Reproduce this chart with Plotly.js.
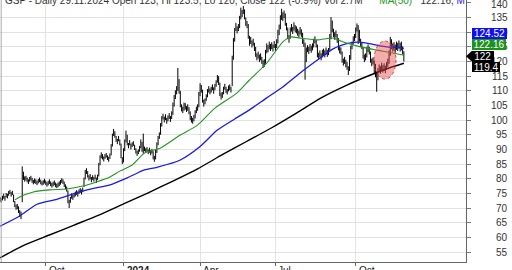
<!DOCTYPE html>
<html><head><meta charset="utf-8">
<script src="https://cdn.plot.ly/plotly-3.0.1.min.js"></script>
<style>html,body{margin:0;padding:0;background:#fff;}#c{width:512px;height:270px;}</style>
</head><body><div id="c"></div>
<script>
// daily bars (trading-day index = array position)
const hi = [
73.8,73.4,74.2,74.9,74.1,75.1,74.9,75.8,76.2,75.5,
75.9,74.6,72.4,71.2,71.4,70.6,69.3,68.8,84.2,82.4,
80.8,81.0,80.4,79.8,80.6,81.0,80.3,79.6,80.1,79.8,
79.3,79.9,80.4,79.7,79.1,79.5,80.0,79.4,78.8,79.3,
79.8,79.1,78.6,79.0,79.4,78.7,78.3,78.7,79.1,79.6,
80.2,79.8,79.0,78.1,77.4,76.0,72.8,73.8,75.0,74.5,
75.2,75.6,76.1,75.6,76.4,76.8,76.3,77.0,80.4,83.0,
83.6,82.6,81.2,81.6,80.6,81.2,80.6,81.4,80.4,81.4,
85.4,88.0,89.0,88.4,87.6,88.4,88.8,88.0,87.5,88.6,
91.8,95.4,97.0,96.2,94.6,93.6,94.6,93.4,92.0,87.4,
90.4,93.4,96.4,95.0,92.2,93.2,92.0,92.4,92.8,91.6,
90.4,89.6,90.0,91.2,93.4,92.6,95.4,91.0,90.4,90.8,
90.0,90.6,89.8,90.2,89.4,87.8,89.8,92.4,94.6,95.8,
99.0,101.4,102.2,101.2,102.0,100.8,101.6,102.4,101.4,103.0,
106.0,108.6,110.2,111.6,117.8,114.0,110.0,105.4,104.6,106.0,
105.8,104.8,105.4,104.4,103.0,101.4,100.8,101.8,103.4,104.6,
105.4,109.6,112.6,112.0,110.4,107.0,107.4,108.8,110.6,111.6,
110.8,111.4,112.2,111.2,112.4,113.6,115.4,115.0,112.8,109.4,
109.6,111.4,112.4,111.4,110.6,111.8,112.2,111.4,122.0,128.0,
131.4,133.2,132.0,132.8,135.6,138.4,137.6,139.0,137.8,135.0,
133.8,132.8,128.8,128.4,127.2,127.8,126.4,125.0,122.8,123.4,
122.4,122.8,121.6,120.4,120.8,124.0,126.2,125.6,126.8,126.0,
126.6,125.8,127.0,126.0,127.6,130.8,132.6,135.8,138.0,136.8,
137.4,136.4,133.2,131.6,129.0,131.6,132.8,131.8,133.4,132.4,
132.0,131.2,130.6,131.8,131.0,129.8,127.6,126.4,124.8,125.6,
125.0,126.0,125.4,126.2,127.8,128.6,127.4,125.8,123.0,123.8,
122.8,124.0,124.4,123.8,124.8,124.0,124.6,129.4,135.2,134.0,
131.2,130.0,130.6,129.4,128.0,125.2,124.8,123.4,121.0,121.6,
120.6,119.8,118.4,122.2,125.4,126.8,128.6,129.4,131.6,133.0,
132.4,130.8,127.8,126.6,125.0,122.4,122.8,125.0,125.8,125.0,
123.4,121.0,121.4,120.4,119.2,116.6,117.8,119.0,118.4,119.6,
118.8,119.4,118.6,119.8,121.0,123.8,128.4,127.6,126.2,126.6,
125.8,126.8,126.4,127.2,126.4,126.8,125.2,123.5
];
const lo = [
72.2,71.9,72.6,73.2,72.5,73.6,73.3,74.2,74.8,73.9,
74.4,72.0,70.3,69.4,69.6,68.3,67.0,66.2,72.0,79.6,
79.0,79.4,78.8,78.2,79.0,79.4,78.6,78.1,78.5,78.2,
77.8,78.4,78.8,78.1,77.7,77.9,78.4,77.9,77.3,77.7,
78.2,77.5,77.0,77.4,77.8,77.1,76.8,77.1,77.5,78.0,
78.6,78.2,77.2,76.4,75.6,71.6,70.0,71.8,73.2,72.8,
73.6,74.0,74.5,73.9,74.8,75.2,74.6,75.4,77.2,79.8,
81.6,80.4,79.4,79.8,78.8,79.6,79.0,79.8,78.6,79.6,
80.8,84.6,87.0,86.6,85.9,86.8,87.2,86.4,85.8,86.8,
88.0,91.0,94.6,94.0,92.6,91.8,92.8,91.4,87.0,85.0,
85.6,89.4,92.4,91.4,90.4,91.4,90.0,90.8,91.2,89.8,
88.6,87.8,88.4,89.2,90.4,89.2,88.6,89.4,88.8,89.2,
88.4,88.9,88.0,88.6,86.6,85.8,86.6,88.8,91.4,93.6,
95.0,97.8,100.2,99.2,100.0,98.8,99.6,100.4,99.4,100.4,
101.8,104.6,107.2,108.8,110.0,109.0,104.4,103.0,102.4,103.2,
103.6,102.8,103.2,102.0,100.0,99.2,98.8,99.6,100.6,102.4,
103.2,104.4,108.2,109.4,106.0,104.6,105.4,106.6,107.8,109.4,
108.8,109.4,110.2,109.0,110.2,111.4,112.8,112.0,108.2,107.0,
107.6,108.8,110.4,109.2,108.8,109.8,110.2,109.4,111.6,120.6,
126.8,130.4,129.6,130.4,131.4,134.4,135.2,136.2,134.4,132.2,
131.4,127.8,125.4,126.0,124.8,125.4,123.6,121.6,120.4,121.0,
119.8,120.4,119.2,117.8,118.2,119.2,122.8,123.2,124.2,123.6,
124.2,123.4,124.6,123.6,124.6,126.2,129.0,131.0,134.2,133.8,
134.8,132.2,130.6,127.6,126.4,127.8,130.2,129.4,130.6,130.0,
129.6,128.8,128.2,129.2,128.4,126.0,125.0,113.8,119.8,123.2,
122.6,123.6,123.0,123.8,124.8,126.2,124.8,121.4,120.8,121.4,
120.4,121.4,122.0,121.4,122.4,121.6,122.2,123.8,127.6,130.0,
128.4,127.4,128.2,126.4,123.8,122.8,122.4,119.6,118.6,119.2,
118.0,117.2,115.4,116.8,120.6,124.2,125.8,127.0,128.0,130.2,
126.0,126.8,125.0,124.2,121.0,119.8,120.4,121.4,123.2,122.4,
119.6,118.4,119.0,115.8,114.6,109.7,113.6,116.4,115.8,116.8,
116.2,116.8,116.0,117.2,118.2,119.2,122.0,124.2,123.4,123.8,
123.0,124.0,123.6,124.4,123.4,123.8,122.4,120.0
];
// moving averages (index, value)
const maGreenX = [12,16,27,40,54,67,78,89,97,107,117,130,146,160,174,192,202,216,229,235,243,257,270,278,292,305,318,327];
const maGreenY = [72.8,73.8,75.5,76.2,76.5,77.5,78.9,80.6,82.6,84.7,88.8,90.5,94.9,98.3,104.1,109.3,113.7,119.5,126.7,128.4,128.0,127.4,128.0,126.7,125.0,123.9,122.9,122.16];
const maBlueX = [0,16,30,46,61,75,89,103,117,127,146,162,176,190,202,216,229,243,257,270,280,289,297,305,313,321,327];
const maBlueY = [63.8,67.3,71.3,73.0,75.1,76.6,77.9,80.3,83.0,83.9,86.4,91.0,96.6,100.4,103.5,107.6,111.3,116.1,120.5,124.4,126.0,126.6,126.3,125.6,125.0,124.8,124.52];
const maBlackX = [0,20,40,60,80,100,120,140,160,180,200,220,240,260,280,300,315,327];
const maBlackY = [53.0,57.4,60.8,64.2,67.6,71.4,75.2,79.2,83.4,88.2,92.8,97.4,102.4,107.6,111.8,115.4,117.8,119.4];
// axes
const xTickVals = [37,100,162,223,288];
const xTickText = ['Oct','<b>2024</b>','Apr','Jul','Oct'];
const yTickVals = [55,60,65,70,75,80,85,90,95,100,105,110,115,120,125,130,135,140];
const lastLabels = [
  {text:'124.52', color:'#1010ee', top:28.3, h:11, w:35},
  {text:'122.16', color:'#1c921c', top:39.3, h:11.4, w:34},
  {text:'122', color:'#000000', top:50.7, h:11, w:21.6},
  {text:'119.4', color:'#000000', top:61.7, h:10, w:28.3}
];
const titleMain = 'GSP - Daily 29.11.2024 Open 123, Hi 123.5, Lo 120, Close 122 (-0.9%) Vol 2.7M';

const W = 466, H = 262;
const bx = [], by = [];
for (let i = 0; i < hi.length; i++) { bx.push(i, i, null); by.push(lo[i], hi[i], null); }

const traces = [
  {x: bx, y: by, type: 'scatter', mode: 'lines', line: {color: '#000', width: 1}, hoverinfo: 'skip'},
  {x: maBlackX, y: maBlackY, type: 'scatter', mode: 'lines', line: {color: '#000', width: 1.4, shape: 'spline', smoothing: 0.6}},
  {x: maBlueX, y: maBlueY, type: 'scatter', mode: 'lines', line: {color: '#1a1ae0', width: 1.3, shape: 'spline', smoothing: 0.6}},
  {x: maGreenX, y: maGreenY, type: 'scatter', mode: 'lines', line: {color: '#229422', width: 1.1, shape: 'spline', smoothing: 0.6}}
];

const font = {family: 'Liberation Sans, Arial, sans-serif', size: 10, color: '#333'};
const ann = [];
ann.push({xref: 'paper', yref: 'paper', x: 0.006, y: 1, xanchor: 'left', yanchor: 'middle', showarrow: false,
  text: titleMain + '      <span style="color:#229422">MA(50)</span>   122.16, <span style="color:#1a1ae0">M</span>',
  font: {family: font.family, size: 10, color: '#333'}});
xTickVals.forEach((v, k) => ann.push({xref: 'x', yref: 'paper', x: v, y: 0, xanchor: 'left', yanchor: 'top', xshift: 1, yshift: -0.5,
  showarrow: false, text: xTickText[k], font: {family: font.family, size: 10, color: '#222'}}));
yTickVals.forEach(v => ann.push({xref: 'paper', yref: 'y', x: 510 / W, y: v, xanchor: 'right', yanchor: 'middle', yshift: v === 140 ? -2 : 0,
  showarrow: false, text: String(v), font: font}));
lastLabels.forEach(L => ann.push({xref: 'paper', yref: 'paper', x: 471.7 / W, y: (H - L.top) / H, xanchor: 'left', yanchor: 'top',
  showarrow: false, text: L.text, width: L.w, height: L.h, bgcolor: L.color, borderpad: 0, borderwidth: 0, align: 'center', valign: 'middle',
  font: {family: font.family, size: 10, color: '#fff'}}));

const shapes = [
  {type: 'rect', xref: 'paper', yref: 'paper', x0: 0, x1: 1, y0: (H - 5.5) / H, y1: 1.02, fillcolor: '#fff', line: {width: 0}, layer: 'above'},
  {type: 'line', xref: 'paper', yref: 'paper', x0: 1.2 / W, x1: 1.2 / W, y0: 0, y1: 1, line: {color: '#aaa', width: 1}},
  {type: 'circle', xref: 'x', yref: 'y', x0: 302.8, x1: 320.6, y0: 114.0, y1: 127.0, fillcolor: 'rgba(232,70,70,0.45)',
    line: {color: 'rgba(220,30,30,0.8)', width: 1, dash: 'dot'}, layer: 'above'},
  {type: 'path', xref: 'paper', yref: 'paper', path: 'M ' + (466 / W) + ' ' + ((H - 56.2) / H) + ' L ' + (472 / W) + ' ' + ((H - 50.7) / H) + ' L ' + (472 / W) + ' ' + ((H - 61.7) / H) + ' Z',
    fillcolor: '#000', line: {width: 0}, layer: 'above'}
];

const layout = {
  width: 512, height: 270, margin: {l: 0, r: 46, t: 0, b: 8}, paper_bgcolor: '#fff', plot_bgcolor: '#fff', showlegend: false,
  xaxis: {range: [0, 377.3], tickvals: xTickVals, showticklabels: false, ticks: 'outside', ticklen: 3, tickcolor: '#666',
    showgrid: true, gridcolor: '#e2e2e2', gridwidth: 1, showline: true, linecolor: '#666', linewidth: 1, zeroline: false, fixedrange: true},
  yaxis: {range: [51.59, 141.0], side: 'right', tickvals: yTickVals, showticklabels: false, ticks: 'outside', ticklen: 4, tickcolor: '#777',
    showgrid: true, gridcolor: '#e2e2e2', gridwidth: 1, showline: true, linecolor: '#666', linewidth: 1, zeroline: false, fixedrange: true},
  annotations: ann, shapes: shapes
};
Plotly.newPlot('c', traces, layout, {staticPlot: true, displayModeBar: false});
</script></body></html>
